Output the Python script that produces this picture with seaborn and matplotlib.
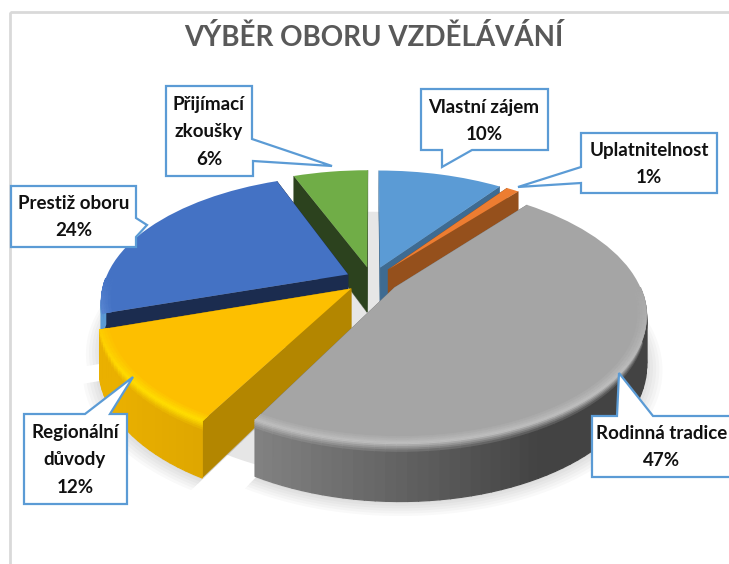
import matplotlib
matplotlib.use("Agg")
import matplotlib.pyplot as plt
from matplotlib.collections import PolyCollection
from matplotlib.colors import to_rgb
from matplotlib.patches import Polygon, Rectangle
from matplotlib.transforms import Transform
import numpy as np
import seaborn as sns

# Data
categories = ["Vlastní zájem", "Uplatnitelnost", "Rodinná tradice",
              "Regionální\ndůvody", "Prestiž oboru", "Přijímací\nzkoušky"]
shares = [10, 1, 47, 12, 24, 6]
title = "VÝBĚR OBORU VZDĚLÁVÁNÍ"

# Colours: top face, cut wall, rim at left, rim at right, rim highlight
top_colors = ["#5b9bd5", "#ed7d31", "#a5a5a5", "#fdbf00", "#4472c4", "#70ad47"]
wall_colors = ["#3e6b92", "#95501c", "#777777", "#b38600", "#1b2c4f", "#2c421e"]
rim_left = ["#3e6b92", "#a5581f", "#9a9a9a", "#eab000", "#5b9bd5", "#4a7530"]
rim_right = ["#3e6b92", "#95501c", "#434343", "#c08e00", "#2f5597", "#4a7530"]
rim_light = ["#8fbce6", "#f5a56c", "#bdbdbd", "#ffdc00", "#6f9be0", "#9ccb78"]
border_color = "#5b9bd5"

# Projection of the tilted pie onto the picture, in pixels
CX, CY, A, B, P, DEPTH = 372, 280, 243, 121, 0.2, 46
EXPLODE = 0.11
draw_order = [5, 0, 1, 4, 3, 2]

# Callouts: outline in pixels, then text centre
callouts = [
    ([(421, 89), (548, 89), (548, 150), (472, 150), (442, 167), (442, 150), (421, 150)], (484, 121)),
    ([(581, 133), (717, 133), (717, 193), (581, 193), (581, 183), (518, 187), (581, 167)], (649, 164)),
    ([(592, 416), (617, 416), (619, 373), (653, 416), (740, 416), (740, 477), (592, 477)], (662, 447)),
    ([(24, 414), (85, 414), (133, 377), (110, 414), (127, 414), (127, 504), (24, 504)], (75, 460)),
    ([(11, 186), (136, 186), (136, 218), (147, 225), (136, 237), (136, 247), (11, 247)], (74, 217)),
    ([(166, 86), (252, 86), (252, 139), (332, 166), (253, 161), (253, 176), (166, 176)], (209, 132)),
]


def project(u, v, z=0.0):
    f = 1 / (1 + P * v)
    return CX + A * u * f, CY - B * v * f + DEPTH * z * f


class TiltTransform(Transform):
    input_dims = 2
    output_dims = 2

    def transform_non_affine(self, values):
        x, y = project(values[:, 0], values[:, 1])
        return np.column_stack([x, y])


def mix(c1, c2, t):
    return tuple(np.array(to_rgb(c1)) * (1 - t) + np.array(to_rgb(c2)) * t)


def arc_points(w, r=1.0):
    n = max(int(abs(w.theta2 - w.theta1) / 2), 1)
    th = np.radians(np.linspace(w.theta1, w.theta2, n + 1))
    return w.center[0] + r * w.r * np.cos(th), w.center[1] + r * w.r * np.sin(th)


def quad(u0, v0, u1, v1, z0, z1):
    a = project(u0, v0, z0)
    b = project(u1, v1, z0)
    c = project(u1, v1, z1)
    d = project(u0, v0, z1)
    return [a, b, c, d]


sns.set_style("white")
plt.rcParams["font.family"] = ["Lato", "DejaVu Sans"]

fig = plt.figure(figsize=(7.29, 5.64), dpi=100)
ax = fig.add_axes([0, 0, 1, 1])

wedges, _ = ax.pie(shares, explode=[EXPLODE] * len(shares), startangle=90, counterclock=False,
                   colors=sns.color_palette(top_colors), wedgeprops={"linewidth": 0})
ax.set_aspect("auto")
ax.set_xlim(0, 729)
ax.set_ylim(564, 0)
ax.axis("off")

tilt = TiltTransform() + ax.transData

# Chart frame
ax.add_patch(Rectangle((10, 12), 800, 700, fill=False, edgecolor="#d9d9d9", linewidth=2, zorder=0))

# Soft shadow on the ground
th = np.radians(np.linspace(0, 360, 181))
xs, ys = project(np.cos(th), np.sin(th), 0.85)
ax.add_patch(Polygon(np.column_stack([xs, ys]), facecolor="#e6e6e6", edgecolor="none", zorder=1))
for w in wedges:
    for r in [1.0, 1.012, 1.024, 1.036, 1.048, 1.06]:
        us, vs = arc_points(w, r)
        xs, ys = project(np.r_[w.center[0], us], np.r_[w.center[1], vs], 1.03)
        ax.add_patch(Polygon(np.column_stack([xs, ys]), facecolor="#000000", edgecolor="none", alpha=0.025, zorder=1))

# Slices from back to front
for rank, i in enumerate(draw_order):
    w = wedges[i]
    base = 10 + rank * 5
    cu, cv = w.center

    # Cut walls
    us, vs = arc_points(w)
    for end in [0, -1]:
        ax.add_patch(Polygon(quad(cu, cv, us[end], vs[end], 0, 1), facecolor=wall_colors[i],
                             edgecolor=wall_colors[i], linewidth=0.3, zorder=base))

    # Outer rim, shaded from left to right with a highlight below the top edge
    polys, cols = [], []
    z_bands = [0, 0.03, 0.06, 0.09, 0.12, 0.16, 1.0]
    for k in range(len(us) - 1):
        lu, lv = (us[k] - cu) / w.r, (vs[k] - cv) / w.r
        if lv > 0:
            continue
        rim = mix(rim_left[i], rim_right[i], np.clip((lu + 0.85) / 1.3, 0, 1))
        strength = np.clip(-lv * 1.6, 0, 1)
        light = mix(top_colors[i], rim_light[i], strength)
        for b in range(len(z_bands) - 1):
            t = min(b / (len(z_bands) - 2), 1)
            polys.append(quad(us[k], vs[k], us[k + 1], vs[k + 1], z_bands[b], z_bands[b + 1]))
            cols.append(mix(light, rim, t))
    if polys:
        ax.add_collection(PolyCollection(polys, facecolors=cols, edgecolors=cols, linewidths=0.9, zorder=base + 1))

    # Top face
    w.set_transform(tilt)
    w.set_zorder(base + 2)

    # Bevel along the front of the top face
    polys, cols = [], []
    radii = [0.965, 0.975, 0.985, 0.993, 1.0]
    for b in range(len(radii) - 1):
        u0, v0 = arc_points(w, radii[b])
        u1, v1 = arc_points(w, radii[b + 1])
        for k in range(len(u0) - 1):
            lv = (v0[k] - cv) / w.r
            if lv > 0:
                continue
            strength = np.clip(-lv * 1.6, 0, 1)
            light = mix(top_colors[i], rim_light[i], strength)
            a, d = project(u0[k], v0[k]), project(u1[k], v1[k])
            e, f = project(u1[k + 1], v1[k + 1]), project(u0[k + 1], v0[k + 1])
            polys.append([a, d, e, f])
            cols.append(mix(top_colors[i], light, (b + 1) / (len(radii) - 1)))
    if polys:
        ax.add_collection(PolyCollection(polys, facecolors=cols, edgecolors=cols, linewidths=0.4, zorder=base + 3))

# Data labels
for cat, val, (outline, pos) in zip(categories, shares, callouts):
    ax.add_patch(Polygon(outline, closed=True, facecolor="white", edgecolor=border_color,
                         linewidth=1.6, joinstyle="miter", zorder=60))
    ax.text(pos[0], pos[1], f"{cat}\n{val}%", ha="center", va="center", fontsize=13.5,
            fontweight="bold", color="#111111", linespacing=1.72, zorder=61)

ax.text(374, 38, title, ha="center", va="center", fontsize=20, fontweight="bold", color="#595959")

plt.savefig("out.png", dpi=100)
